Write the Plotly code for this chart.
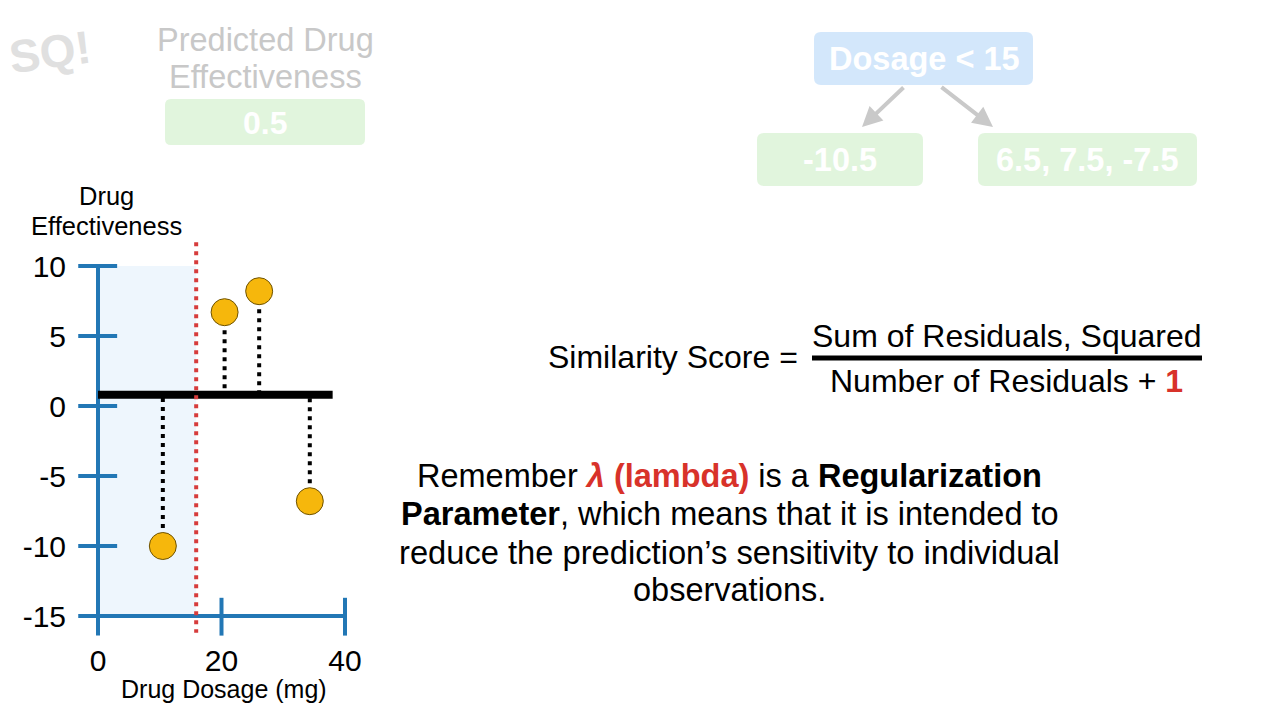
import plotly.graph_objects as go

# ---- data ----
dosage = [10.5, 20.5, 26.1, 34.3]
effectiveness = [-10.0, 6.7, 8.2, -6.8]
prediction = 0.8
threshold = 15.9
y_ticks = [10, 5, 0, -5, -10, -15]
x_ticks = [0, 20, 40]
residual_labels_left = "-10.5"
residual_labels_right = "6.5, 7.5, -7.5"
root_label = "Dosage < 15"
predicted_value = "0.5"

W, H = 1280, 716
FONT = "Liberation Sans"
BLUE = "#2277b5"
RED = "#d63c3c"
GOLD = "#f6b70c"
FADE_TXT = "#c8c8c8"
GREEN_BOX = "#e1f5dd"
BLUE_BOX = "#d3e7fb"


def px(x):
    return x / W


def py(y):
    return 1 - y / H


def rrect(x0, y0, x1, y1, r, color):
    pts = [
        f"M {px(x0 + r)},{py(y0)}",
        f"L {px(x1 - r)},{py(y0)}",
        f"Q {px(x1)},{py(y0)} {px(x1)},{py(y0 + r)}",
        f"L {px(x1)},{py(y1 - r)}",
        f"Q {px(x1)},{py(y1)} {px(x1 - r)},{py(y1)}",
        f"L {px(x0 + r)},{py(y1)}",
        f"Q {px(x0)},{py(y1)} {px(x0)},{py(y1 - r)}",
        f"L {px(x0)},{py(y0 + r)}",
        f"Q {px(x0)},{py(y0)} {px(x0 + r)},{py(y0)} Z",
    ]
    return dict(type="path", xref="paper", yref="paper", path=" ".join(pts),
                fillcolor=color, line=dict(width=0), layer="below")


fig = go.Figure()

# residual dotted lines
for xv, yv in zip(dosage, effectiveness):
    fig.add_trace(go.Scatter(x=[xv, xv], y=[yv, prediction], mode="lines",
                             line=dict(color="black", width=4, dash="4px,5px"),
                             hoverinfo="skip", showlegend=False))

# points
fig.add_trace(go.Scatter(x=dosage, y=effectiveness, mode="markers",
                         marker=dict(size=27, color=GOLD,
                                     line=dict(color="#6e5200", width=1)),
                         showlegend=False))

shapes = []
# shaded leaf region
shapes.append(dict(type="rect", xref="x", yref="y", x0=0, x1=threshold,
                   y0=min(y_ticks), y1=max(y_ticks), fillcolor="#eef6fd",
                   line=dict(width=0), layer="below"))
# blue axes
shapes.append(dict(type="line", xref="x", yref="y", x0=0, x1=0,
                   y0=max(y_ticks), y1=min(y_ticks) - 1.4,
                   line=dict(color=BLUE, width=4)))
shapes.append(dict(type="line", xref="x", yref="y", x0=-3.2, x1=max(x_ticks),
                   y0=min(y_ticks), y1=min(y_ticks),
                   line=dict(color=BLUE, width=4)))
for t in y_ticks[:-1]:
    shapes.append(dict(type="line", xref="x", yref="y", x0=-3.2, x1=3.1,
                       y0=t, y1=t, line=dict(color=BLUE, width=4)))
for t in x_ticks[1:]:
    shapes.append(dict(type="line", xref="x", yref="y", x0=t, x1=t,
                       y0=min(y_ticks) + 1.3, y1=min(y_ticks) - 1.4,
                       line=dict(color=BLUE, width=4)))
# prediction line
shapes.append(dict(type="line", xref="x", yref="y", x0=0, x1=38,
                   y0=prediction, y1=prediction,
                   line=dict(color="black", width=8)))
# threshold line
shapes.append(dict(type="line", xref="x", yref="y", x0=threshold, x1=threshold,
                   y0=11.7, y1=-16.2,
                   line=dict(color=RED, width=4, dash="4px,5px")))
# fraction bar
shapes.append(dict(type="line", xref="paper", yref="paper", x0=px(812), x1=px(1202),
                   y0=py(358), y1=py(358), line=dict(color="black", width=5)))
# faded boxes
shapes.append(rrect(165, 99, 365, 145, 6, GREEN_BOX))
shapes.append(rrect(814, 32, 1033, 85, 7, BLUE_BOX))
shapes.append(rrect(757, 133, 923, 186, 7, GREEN_BOX))
shapes.append(rrect(978, 133, 1197, 186, 7, GREEN_BOX))

ann = []


def text(x, y, s, size, color="black", xanchor="center", bold=False):
    if bold:
        s = f"<b>{s}</b>"
    ann.append(dict(xref="paper", yref="paper", x=px(x), y=py(y), text=s,
                    showarrow=False, xanchor=xanchor, yanchor="middle",
                    font=dict(family=FONT, size=size, color=color)))


# axis titles
text(106, 196, "Drug", 25.5)
text(106, 226, "Effectiveness", 25.5)
text(224, 689, "Drug Dosage (mg)", 25)

# faded header
text(265, 40, "Predicted Drug", 32.5, FADE_TXT)
text(265, 77, "Effectiveness", 32.5, FADE_TXT)
text(265, 123, predicted_value, 32, "white", bold=True)
text(924, 59, root_label, 32.5, "white", bold=True)
text(840, 160, residual_labels_left, 32.5, "white", bold=True)
text(1087, 160, residual_labels_right, 32.5, "white", bold=True)

# faded logo
ann.append(dict(xref="paper", yref="paper", x=px(50), y=py(52), text="<b>SQ!</b>",
                showarrow=False, textangle=-8, xanchor="center", yanchor="middle",
                font=dict(family=FONT, size=46, color="#e0e0e0")))

# arrows
ann.append(dict(xref="paper", yref="paper", x=px(862), y=py(127), ax=43, ay=-41,
                text="", showarrow=True, arrowhead=2, arrowsize=1, arrowwidth=4,
                arrowcolor="#c9c9c9"))
ann.append(dict(xref="paper", yref="paper", x=px(993), y=py(127), ax=-53, ay=-41,
                text="", showarrow=True, arrowhead=2, arrowsize=1, arrowwidth=4,
                arrowcolor="#c9c9c9"))

# formula
text(800, 357, "Similarity Score =", 32, xanchor="right")
text(1007, 336, "Sum of Residuals, Squared", 32)
text(1006, 381, "Number of Residuals + <b><span style='color:#d8322a'>1</span></b>", 32)

# paragraph
text(729.5, 476, "Remember <b><span style='color:#d8322a'><i>λ</i> (lambda)</span></b> is a <b>Regularization</b>", 32.5)
text(729.5, 514, "<b>Parameter</b>, which means that it is intended to", 32.5)
text(729.5, 552, "reduce the prediction’s sensitivity to individual", 32.7)
text(729.5, 590, "observations.", 32.5)

# axis mapping: pixel = 98 + 6.175*x ; pixel_y = 406 - 14*y
xl, xr = 70, 372
yt, yb = 230, 640
fig.update_layout(
    width=W, height=H, margin=dict(l=0, r=0, t=0, b=0),
    paper_bgcolor="white", plot_bgcolor="rgba(0,0,0,0)",
    shapes=shapes, annotations=ann,
    xaxis=dict(domain=[px(xl), px(xr)],
               range=[(xl - 98) / 6.175, (xr - 98) / 6.175],
               tickvals=x_ticks, ticktext=[str(t) for t in x_ticks],
               showgrid=False, zeroline=False, showline=False, ticks="",
               ticklabelstandoff=0,
               tickfont=dict(family=FONT, size=30, color="black")),
    yaxis=dict(domain=[py(yb), py(yt)],
               range=[(406 - yb) / 14, (406 - yt) / 14],
               tickvals=y_ticks, ticktext=[str(t) for t in y_ticks],
               showgrid=False, zeroline=False, showline=False, ticks="",
               ticklabelstandoff=3,
               tickfont=dict(family=FONT, size=30, color="black")),
    font=dict(family=FONT),
)

fig.write_html("out.html", config={"displayModeBar": False},
               post_script="document.body.style.margin='0px';document.body.style.overflow='hidden';")
